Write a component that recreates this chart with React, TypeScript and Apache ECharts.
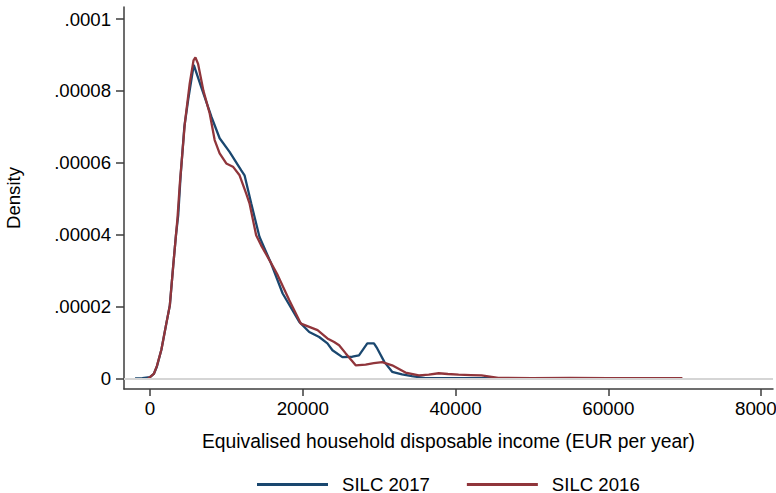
import React, { useEffect, useRef } from "react";
import * as echarts from "echarts";

// Kernel density estimates: [income (EUR/year), density]
const silc2017: [number, number][] = [
  [-1950, 0], [-1000, 0.05e-6], [0, 0.3e-6], [500, 1.2e-6], [900, 3.2e-6],
  [1500, 8.0e-6], [2100, 14.8e-6], [2600, 20.3e-6], [3050, 31.5e-6], [3400, 39.8e-6],
  [3700, 45.4e-6], [4000, 56e-6], [4500, 70e-6], [5000, 77.5e-6], [5730, 87.2e-6],
  [6800, 80.5e-6], [8040, 72.8e-6], [9120, 66.8e-6], [10420, 63e-6], [11950, 57.9e-6],
  [12380, 56.5e-6], [13250, 48.7e-6], [14330, 39.4e-6], [15850, 32e-6], [17370, 23.6e-6],
  [19550, 15.7e-6], [20850, 12.9e-6], [22150, 11.5e-6], [23230, 9.7e-6], [23890, 7.8e-6],
  [25190, 5.9e-6], [26500, 6.0e-6], [27360, 6.4e-6], [28450, 9.7e-6], [29320, 9.7e-6],
  [29750, 8.3e-6], [30700, 4.5e-6], [31700, 1.8e-6], [33000, 1.1e-6], [34300, 0.6e-6],
  [36050, 0.05e-6], [40000, 0.03e-6], [45000, 0.02e-6], [51000, 0.01e-6],
];

const silc2016: [number, number][] = [
  [-260, 0], [0, 0.3e-6], [500, 1.2e-6], [900, 3.4e-6], [1500, 8.0e-6],
  [2100, 14.8e-6], [2600, 20.3e-6], [3050, 31.5e-6], [3400, 39.8e-6], [3600, 44.5e-6],
  [3910, 54.2e-6], [4560, 70.9e-6], [5200, 82e-6], [5700, 88.5e-6], [5950, 89.3e-6],
  [6300, 87.5e-6], [7000, 80e-6], [7820, 73.7e-6], [8470, 66.3e-6], [9120, 62.6e-6],
  [9990, 59.8e-6], [10860, 58.9e-6], [11730, 56.5e-6], [12600, 51.4e-6], [13030, 48.7e-6],
  [13900, 39.8e-6], [14550, 37e-6], [15640, 32.9e-6], [16720, 28.7e-6], [18240, 21.7e-6],
  [19760, 15.2e-6], [20850, 14.3e-6], [21940, 13.4e-6], [23230, 11.1e-6], [24110, 10.1e-6],
  [24760, 9.2e-6], [25600, 7.0e-6], [26930, 3.6e-6], [28230, 3.8e-6], [29300, 4.2e-6],
  [30400, 4.5e-6], [31700, 3.6e-6], [33450, 1.6e-6], [35200, 0.8e-6], [36500, 1.0e-6],
  [37800, 1.4e-6], [39000, 1.2e-6], [40400, 1.0e-6], [42000, 0.9e-6], [43400, 0.8e-6],
  [45600, 0.1e-6], [50000, 0.05e-6], [55000, 0.1e-6], [60000, 0.05e-6], [65000, 0.03e-6],
  [69700, 0.02e-6],
];

const seriesNames = ["SILC 2017", "SILC 2016"];
const xTickValues = [0, 20000, 40000, 60000, 80000];
const yTickValues = [0, 0.00002, 0.00004, 0.00006, 0.00008, 0.0001];
const yTickLabels = ["0", ".00002", ".00004", ".00006", ".00008", ".0001"];

const FONT = "'Liberation Sans', Arial, sans-serif";
const AXIS_COLOR = "#3c3c3c";

function yLabel(v: number): string {
  const i = yTickValues.findIndex((t) => Math.abs(t - v) < 1e-9);
  return i >= 0 ? yTickLabels[i] : "";
}

export default function App() {
  const ref = useRef<HTMLDivElement>(null);

  useEffect(() => {
    if (!ref.current) return;
    const chart = echarts.init(ref.current, undefined, { renderer: "svg" });
    chart.setOption({
      animation: false,
      backgroundColor: "#ffffff",
      textStyle: { fontFamily: FONT },
      grid: {
        left: 124,
        right: 3,
        top: 7,
        bottom: 104,
        containLabel: false,
        outerBoundsMode: "none",
      },
      legend: {
        data: seriesNames,
        left: 257,
        top: 475,
        padding: 0,
        icon: "rect",
        itemWidth: 71,
        itemHeight: 3,
        itemGap: 37,
        textStyle: {
          fontSize: 18.6,
          lineHeight: 18,
          color: "#000",
          fontFamily: FONT,
          padding: [0, 0, 0, 9],
        },
      },
      xAxis: {
        type: "value",
        min: -3400,
        max: 81560,
        name: "Equivalised household disposable income (EUR per year)",
        nameLocation: "middle",
        nameGap: 43,
        nameTextStyle: { fontSize: 19.3, color: "#000", fontFamily: FONT },
        axisLine: { show: true, onZero: false, lineStyle: { color: AXIS_COLOR, width: 1.5 } },
        axisTick: { show: true, length: 7, customValues: xTickValues, lineStyle: { color: AXIS_COLOR, width: 1.5 } },
        axisLabel: {
          customValues: xTickValues,
          margin: 10,
          fontSize: 18.8,
          color: "#000",
          fontFamily: FONT,
          hideOverlap: false,
          formatter: (v: number) => String(v),
        },
        splitLine: { show: false },
      },
      yAxis: {
        type: "value",
        min: -2.98e-6,
        max: 1.0334e-4,
        name: "Density",
        nameLocation: "middle",
        nameGap: 101,
        nameTextStyle: { fontSize: 18.6, color: "#000", fontFamily: FONT },
        axisLine: { show: true, onZero: false, lineStyle: { color: AXIS_COLOR, width: 1.5 } },
        axisTick: { show: true, length: 8, customValues: yTickValues, lineStyle: { color: AXIS_COLOR, width: 1.5 } },
        axisLabel: {
          customValues: yTickValues,
          margin: 13,
          fontSize: 18.6,
          color: "#000",
          fontFamily: FONT,
          formatter: (v: number) => yLabel(v),
        },
        splitLine: { show: false },
      },
      series: [
        {
          // horizontal gridlines at the labelled y ticks
          type: "line",
          data: [],
          z: 0,
          silent: true,
          markLine: {
            silent: true,
            symbol: "none",
            label: { show: false },
            lineStyle: { color: "#d4d4d4", width: 1.5, type: "solid" },
            data: yTickValues.map((v) => ({ yAxis: v })),
          },
        },
        {
          name: seriesNames[0],
          type: "line",
          data: silc2017,
          showSymbol: false,
          z: 3,
          color: "#1a476f",
          lineStyle: { color: "#1a476f", width: 2.3 },
        },
        {
          name: seriesNames[1],
          type: "line",
          data: silc2016,
          showSymbol: false,
          z: 4,
          color: "#90353b",
          lineStyle: { color: "#90353b", width: 2.3 },
        },
      ],
    });
    return () => chart.dispose();
  }, []);

  return (
    <div
      ref={ref}
      style={{ position: "fixed", left: 0, top: 0, width: 776, height: 493, background: "#fff" }}
    />
  );
}
